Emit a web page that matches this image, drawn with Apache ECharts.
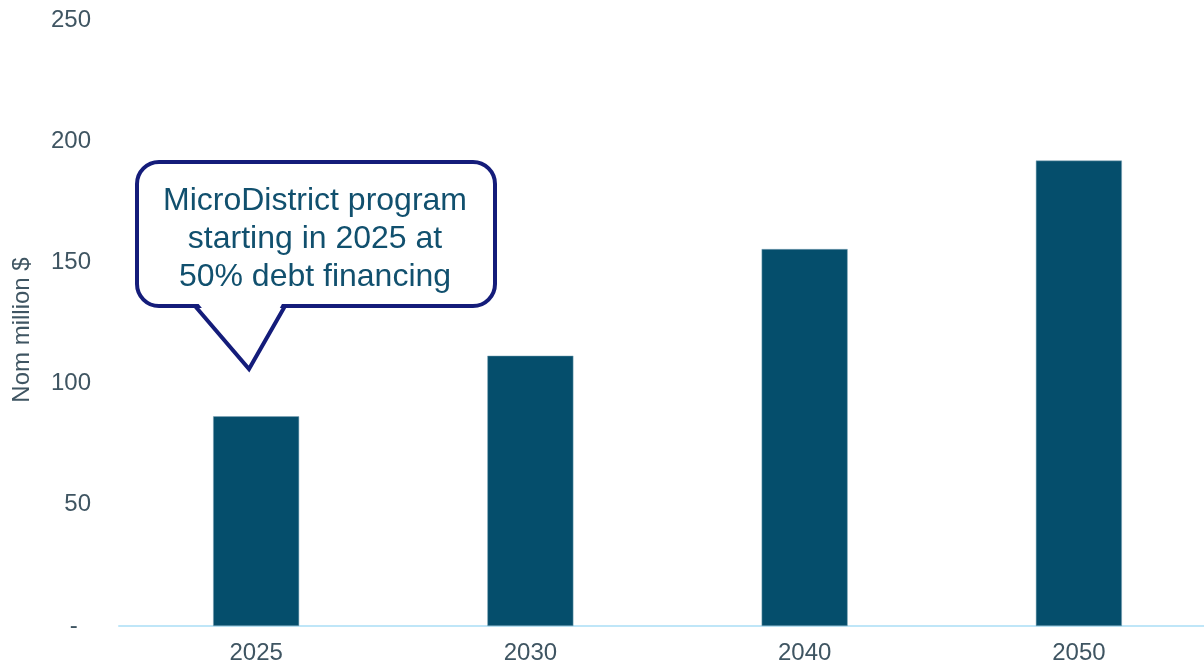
<!DOCTYPE html>
<html>
<head>
<meta charset="utf-8">
<script src="https://cdn.jsdelivr.net/npm/echarts@6/dist/echarts.min.js"></script>
<style>
  html, body { margin: 0; padding: 0; background: #ffffff; }
  #chart { width: 1204px; height: 665px; }
</style>
</head>
<body>
<div id="chart"></div>
<script>
// Annual financing volume by milestone year (nominal million dollars)
var years = ['2025', '2030', '2040', '2050'];
var values = [86.5, 111.5, 155.5, 192];
var yTicks = [0, 50, 100, 150, 200, 250];
var axisTitle = 'Nom million $';
var calloutLines = ['MicroDistrict program', 'starting in 2025 at', '50% debt financing'];

var FONT = '"Liberation Sans", Arial, sans-serif';
var LABEL_COLOR = '#3f5562';
var BAR_COLOR = '#054e6c';
var NAVY = '#141c7a';

var chart = echarts.init(document.getElementById('chart'), null, { renderer: 'canvas' });

chart.setOption({
  backgroundColor: '#ffffff',
  animation: false,
  // plot area runs slightly past the right edge of the page
  grid: {
    left: 119, width: 1097, top: 20, height: 606,
    containLabel: false,
    outerBoundsMode: 'none'
  },
  xAxis: {
    type: 'category',
    data: years,
    axisLine: { show: true, lineStyle: { color: '#bfe6f8', width: 2 } },
    axisTick: { show: false },
    axisLabel: { color: LABEL_COLOR, fontSize: 24, fontFamily: FONT, margin: 15 },
    splitLine: { show: false }
  },
  yAxis: {
    type: 'value',
    min: yTicks[0],
    max: yTicks[yTicks.length - 1],
    interval: yTicks[1] - yTicks[0],
    name: axisTitle,
    nameLocation: 'middle',
    nameGap: 85,
    nameRotate: 90,
    nameTextStyle: { color: LABEL_COLOR, fontSize: 24, fontFamily: FONT, padding: [0, 14, 0, 0] },
    axisLine: { show: false },
    axisTick: { show: false },
    splitLine: { show: false },
    axisLabel: {
      color: LABEL_COLOR,
      fontSize: 24,
      fontFamily: FONT,
      margin: 28,
      formatter: function (v) { return v === 0 ? '-  ' : String(v); }
    }
  },
  series: [{
    type: 'bar',
    data: values,
    barWidth: 86,
    itemStyle: { color: BAR_COLOR, borderColor: '#7fa6b8', borderWidth: 0.5 }
  }],
  graphic: [
    // speech bubble body
    {
      type: 'rect',
      z: 100,
      shape: { x: 137, y: 162, width: 358, height: 144, r: 22 },
      style: { fill: '#ffffff', stroke: NAVY, lineWidth: 4 }
    },
    // fill the pointer and hide the body border behind it
    {
      type: 'polygon',
      z: 101,
      shape: { points: [[197, 302], [249, 366], [283, 302]] },
      style: { fill: '#ffffff' }
    },
    // pointer outline
    {
      type: 'polyline',
      z: 102,
      shape: { points: [[195, 306], [249, 369], [285, 306]] },
      style: { stroke: NAVY, lineWidth: 4, fill: null, lineJoin: 'miter' }
    },
    {
      type: 'text',
      z: 103,
      x: 315,
      y: 239,
      style: {
        text: calloutLines.join('\n'),
        fill: '#11506e',
        font: '32px ' + FONT,
        lineHeight: 38,
        align: 'center',
        verticalAlign: 'middle'
      }
    }
  ]
});
</script>
</body>
</html>
